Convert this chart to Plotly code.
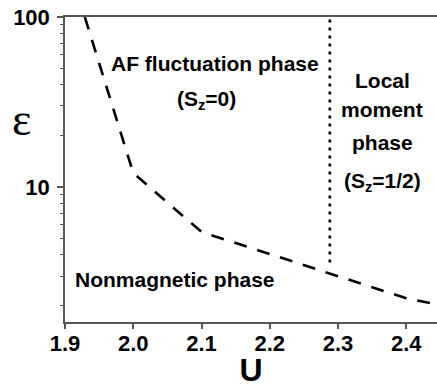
import numpy as np
import plotly.graph_objects as go

# Phase boundary (dashed)
U_boundary = [1.929, 2.0, 2.10, 2.20, 2.30, 2.40, 2.445]
eps_boundary = [100, 12.1, 5.45, 4.05, 3.0, 2.22, 2.04]

# Vertical AF / local moment boundary (dotted)
U_vertical = [2.288, 2.288]
eps_vertical = [3.6, 100]

# Region labels: (text, U, eps)
labels = [
    ("AF fluctuation phase", 2.120, 53.6),
    ("(S<sub>z</sub>=0)", 2.108, 32.5),
    ("Local", 2.365, 42.5),
    ("moment", 2.365, 28.4),
    ("phase", 2.365, 18.4),
    ("(S<sub>z</sub>=1/2)", 2.365, 10.7),
    ("Nonmagnetic phase", 2.061, 2.88),
]

x_ticks = [1.9, 2.0, 2.1, 2.2, 2.3, 2.4]
x_ticktext = ["1.9", "2.0", "2.1", "2.2", "2.3", "2.4"]
y_ticks = [10, 100]
y_ticktext = ["10", "100"]
y_minor = [2, 3, 4, 5, 6, 7, 8, 9, 20, 30, 40, 50, 60, 70, 80, 90]

FONT = "Liberation Sans, Arial, Helvetica, sans-serif"

fig = go.Figure()
fig.add_trace(go.Scatter(
    x=U_boundary, y=eps_boundary, mode="lines",
    line=dict(color="black", width=2.6, dash="13px,11px"),
    hoverinfo="skip", showlegend=False,
))
fig.add_trace(go.Scatter(
    x=U_vertical, y=eps_vertical, mode="lines",
    line=dict(color="black", width=2.6, dash="3px,5px"),
    hoverinfo="skip", showlegend=False,
))

for text, u, e in labels:
    fig.add_annotation(
        x=u, y=np.log10(e), xref="x", yref="y", text=text, showarrow=False,
        font=dict(family=FONT, size=21, color="black", weight="bold"),
        xanchor="center", yanchor="middle",
    )

# Upright epsilon axis label
fig.add_annotation(
    x=-0.116, y=0.665, xref="paper", yref="paper", text="ε", showarrow=False,
    font=dict(family="Liberation Serif, serif", size=46, color="black"),
    xanchor="center", yanchor="middle",
)

axis_line = "#555555"
fig.update_layout(
    width=437, height=388,
    margin=dict(l=65, r=0, t=17, b=66, autoexpand=False),
    paper_bgcolor="white", plot_bgcolor="white",
    xaxis=dict(
        range=[1.9, 2.445], tickvals=x_ticks, ticktext=x_ticktext,
        ticks="outside", ticklen=5, tickwidth=1.5, tickcolor=axis_line,
        ticklabelstandoff=-4,
        showline=True, linecolor=axis_line, linewidth=1.5, mirror=True,
        showgrid=False, zeroline=False, automargin=False,
        tickfont=dict(family=FONT, size=22, color="black", weight="bold"),
        title=dict(text="U", standoff=2,
                   font=dict(family=FONT, size=32, color="black", weight="bold")),
    ),
    yaxis=dict(
        type="log", range=[np.log10(1.61), 2], tickvals=y_ticks, ticktext=y_ticktext,
        ticks="outside", ticklen=6, tickwidth=1.5, tickcolor=axis_line,
        ticklabelstandoff=3,
        showline=True, linecolor=axis_line, linewidth=1.5, mirror=False,
        showgrid=False, zeroline=False, automargin=False,
        minor=dict(tickvals=y_minor, ticks="outside", ticklen=3, tickwidth=1.2,
                   tickcolor=axis_line, showgrid=False),
        tickfont=dict(family=FONT, size=22, color="black", weight="bold"),
    ),
)

fig.write_html("out.html")
